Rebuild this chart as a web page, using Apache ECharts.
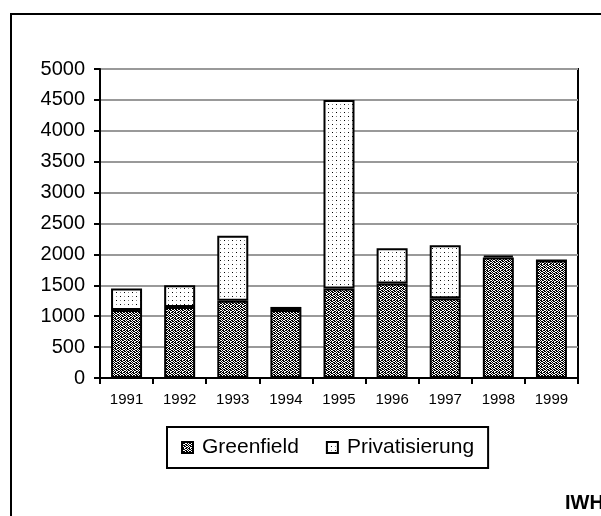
<!DOCTYPE html>
<html><head><meta charset="utf-8">
<script src="https://cdn.jsdelivr.net/npm/echarts@6/dist/echarts.min.js"></script>
<style>html,body{margin:0;padding:0;background:#fff}#c{width:601px;height:516px}</style>
</head><body><div id="c"></div>
<script>
const years = ['1991','1992','1993','1994','1995','1996','1997','1998','1999'];
const greenfield = [1100, 1150, 1250, 1100, 1450, 1530, 1290, 1950, 1900];
const privatisierung = [350, 350, 1050, 50, 3050, 570, 860, 30, 0];
const yTicks = [0, 500, 1000, 1500, 2000, 2500, 3000, 3500, 4000, 4500, 5000];

function makePattern(rows, colors) {
  const h = rows.length, w = rows[0].length;
  const cv = document.createElement('canvas');
  cv.width = w; cv.height = h;
  const ctx = cv.getContext('2d');
  ctx.fillStyle = '#fff'; ctx.fillRect(0, 0, w, h);
  for (let y = 0; y < h; y++) for (let x = 0; x < w; x++) {
    const ch = rows[y][x];
    if (colors[ch]) { ctx.fillStyle = colors[ch]; ctx.fillRect(x, y, 1, 1); }
  }
  return cv;
}
const gfTile = makePattern([
  'XX.XX.',
  '.XX..X',
  'X..XX.',
  '.XX.XX',
  'X.XX..',
  '.X..XX'
], {X: '#000'});
const prTile = makePattern([
  'X...g...',
  '........',
  '........',
  '........',
  'g...X...',
  '........',
  '........',
  '........'
], {X: '#000', g: '#888'});

const FF = '"Liberation Sans", Arial, sans-serif';
const chart = echarts.init(document.getElementById('c'), null, {renderer: 'canvas'});
chart.setOption({
  animation: false,
  backgroundColor: '#fff',
  grid: {left: 100, right: 23, top: 69, bottom: 138, show: true, borderColor: '#000', borderWidth: 2, containLabel: false},
  graphic: [
    {type: 'rect', shape: {x: 11, y: 14, width: 700, height: 600}, style: {fill: 'none', stroke: '#000', lineWidth: 2}, silent: true, z: -1},
    {type: 'text', left: 565, top: 493, style: {text: 'IWH', font: 'bold 20px ' + FF, fill: '#000'}}
  ],
  legend: {
    data: ['Greenfield', 'Privatisierung'],
    left: 167, top: 427,
    padding: [10, 14, 10, 14],
    itemGap: 27, itemWidth: 11, itemHeight: 11, icon: 'rect',
    borderColor: '#000', borderWidth: 2, backgroundColor: '#fff',
    textStyle: {fontSize: 21, color: '#000', fontFamily: FF, padding: [0, 0, 0, 4]}
  },
  xAxis: {
    type: 'category', data: years,
    axisLine: {lineStyle: {color: '#000', width: 2}},
    axisTick: {show: true, length: 6, lineStyle: {color: '#000', width: 2}},
    axisLabel: {fontSize: 15, color: '#000', margin: 14, fontFamily: FF},
    splitLine: {show: false}
  },
  yAxis: {
    type: 'value', min: 0, max: 5000, interval: 500,
    axisLine: {show: true, lineStyle: {color: '#000', width: 2}},
    axisTick: {show: true, length: 6, lineStyle: {color: '#000', width: 2}},
    axisLabel: {fontSize: 20, color: '#000', margin: 15, fontFamily: FF,
      formatter: v => yTicks.includes(v) ? String(v) : ''},
    splitLine: {show: true, lineStyle: {color: '#999', width: 2}}
  },
  series: [
    {name: 'Greenfield', type: 'bar', stack: 'a', data: greenfield, barWidth: 31,
      itemStyle: {color: {image: gfTile, repeat: 'repeat'}, borderColor: '#000', borderWidth: 2}},
    {name: 'Privatisierung', type: 'bar', stack: 'a', data: privatisierung, barWidth: 31,
      itemStyle: {color: {image: prTile, repeat: 'repeat'}, borderColor: '#000', borderWidth: 2}}
  ]
});
</script></body></html>
